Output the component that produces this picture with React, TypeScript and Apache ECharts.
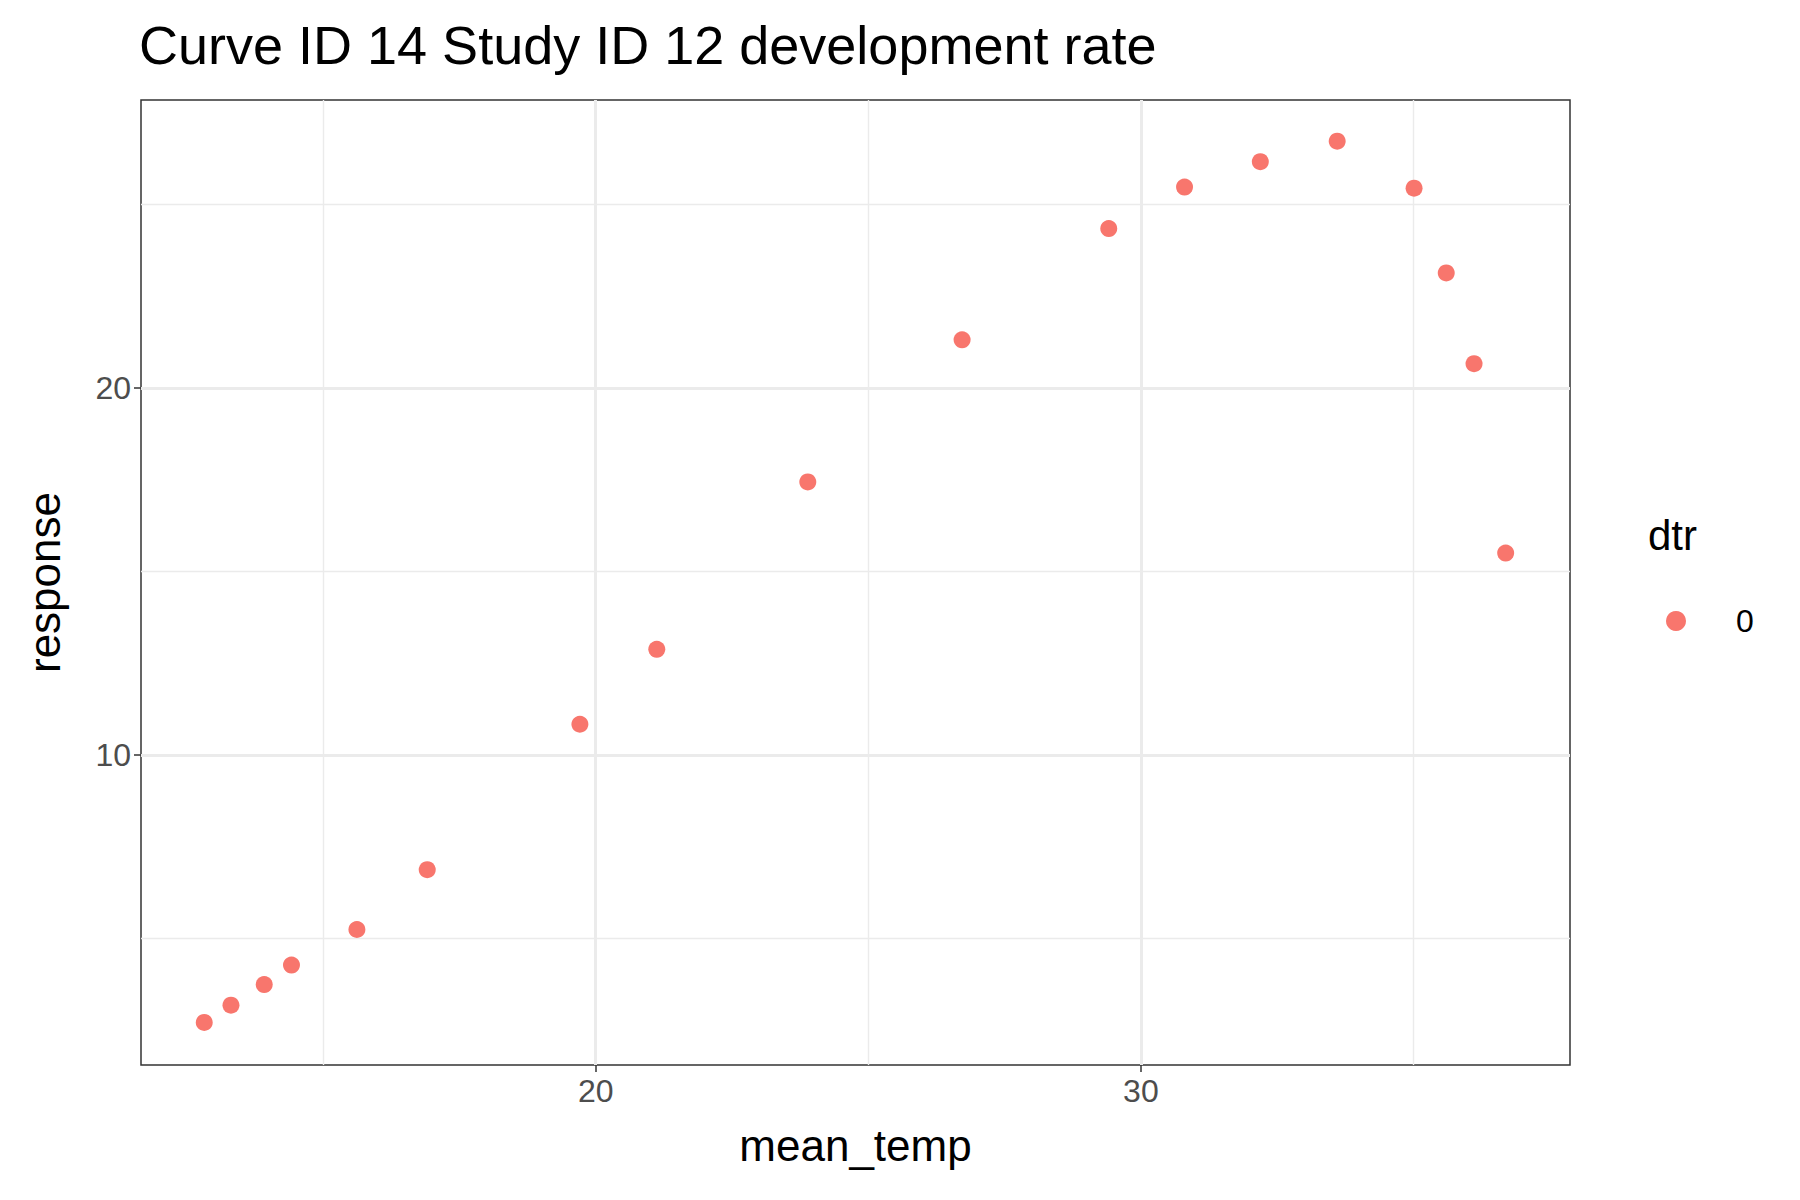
import React, { useEffect, useRef } from "react";
import * as echarts from "echarts";

const meanTemp = [12.82, 13.31, 13.92, 14.42, 15.62, 16.91, 19.71, 21.12, 23.89, 26.72, 29.41, 30.8, 32.19, 33.6, 35.01, 35.6, 36.11, 36.69];
const response = [2.72, 3.19, 3.75, 4.28, 5.25, 6.88, 10.84, 12.88, 17.44, 21.31, 24.34, 25.47, 26.16, 26.72, 25.44, 23.13, 20.66, 15.5];
const xMajor = [20, 30];
const xMinor = [15, 25, 35];
const yMajor = [10, 20];
const yMinor = [5, 15, 25];

export default function App() {
  const ref = useRef<HTMLDivElement>(null);
  useEffect(() => {
    document.body.style.margin = "0";
    const chart = echarts.init(ref.current!, null, { renderer: "svg" });
    const gl = (vals: number[], axis: string, w: number) =>
      vals.map((v) => ({ [axis]: v, lineStyle: { color: "#ebebeb", width: w, type: "solid" } }));
    chart.setOption({
      animation: false,
      textStyle: { fontFamily: "Liberation Sans, Arial, sans-serif" },
      title: {
        text: "Curve ID 14 Study ID 12 development rate",
        left: 134, top: 13,
        textStyle: { fontSize: 54, fontWeight: "normal", color: "#000" },
      },
      grid: { left: 141, right: 230, top: 100, bottom: 135, show: true, borderColor: "#333", borderWidth: 1.5, backgroundColor: "#fff" },
      xAxis: {
        type: "value", min: 11.66, max: 37.87,
        name: "mean_temp", nameLocation: "middle", nameGap: 58,
        nameTextStyle: { fontSize: 44, color: "#000" },
        axisLine: { show: false },
        axisTick: { show: true, customValues: xMajor, length: 7, lineStyle: { color: "#333", width: 1.5 } },
        axisLabel: { customValues: xMajor, fontSize: 32, color: "#4d4d4d", margin: 10 },
        splitLine: { show: false },
      },
      yAxis: {
        type: "value", min: 1.56, max: 27.84,
        name: "response", nameLocation: "middle", nameGap: 75,
        nameTextStyle: { fontSize: 44, color: "#000" },
        axisLine: { show: false },
        axisTick: { show: true, customValues: yMajor, length: 7, lineStyle: { color: "#333", width: 1.5 } },
        axisLabel: { customValues: yMajor, fontSize: 32, color: "#4d4d4d", margin: 10 },
        splitLine: { show: false },
      },
      legend: {
        show: true, orient: "vertical", left: 1661, top: 600,
        data: [{ name: "0", icon: "circle" }],
        itemWidth: 20, itemHeight: 20, itemGap: 10,
        textStyle: { fontSize: 32, color: "#000", padding: [0, 0, 0, 45] },
      },
      graphic: [{ type: "text", left: 1648, top: 514, style: { text: "dtr", fontSize: 42, fill: "#000", fontFamily: "Liberation Sans, Arial, sans-serif" } }],
      series: [
        {
          name: "0",
          type: "scatter",
          data: meanTemp.map((x, i) => [x, response[i]]),
          symbolSize: 17,
          itemStyle: { color: "#F8766D", opacity: 1 },
          z: 5,
          markLine: {
            silent: true, symbol: "none", label: { show: false }, z: 1,
            data: [
              ...gl(xMinor, "xAxis", 1.4), ...gl(yMinor, "yAxis", 1.4),
              ...gl(xMajor, "xAxis", 3), ...gl(yMajor, "yAxis", 3),
            ],
          },
        },
      ],
    });
    return () => chart.dispose();
  }, []);
  return <div ref={ref} style={{ width: 1800, height: 1200 }} />;
}
